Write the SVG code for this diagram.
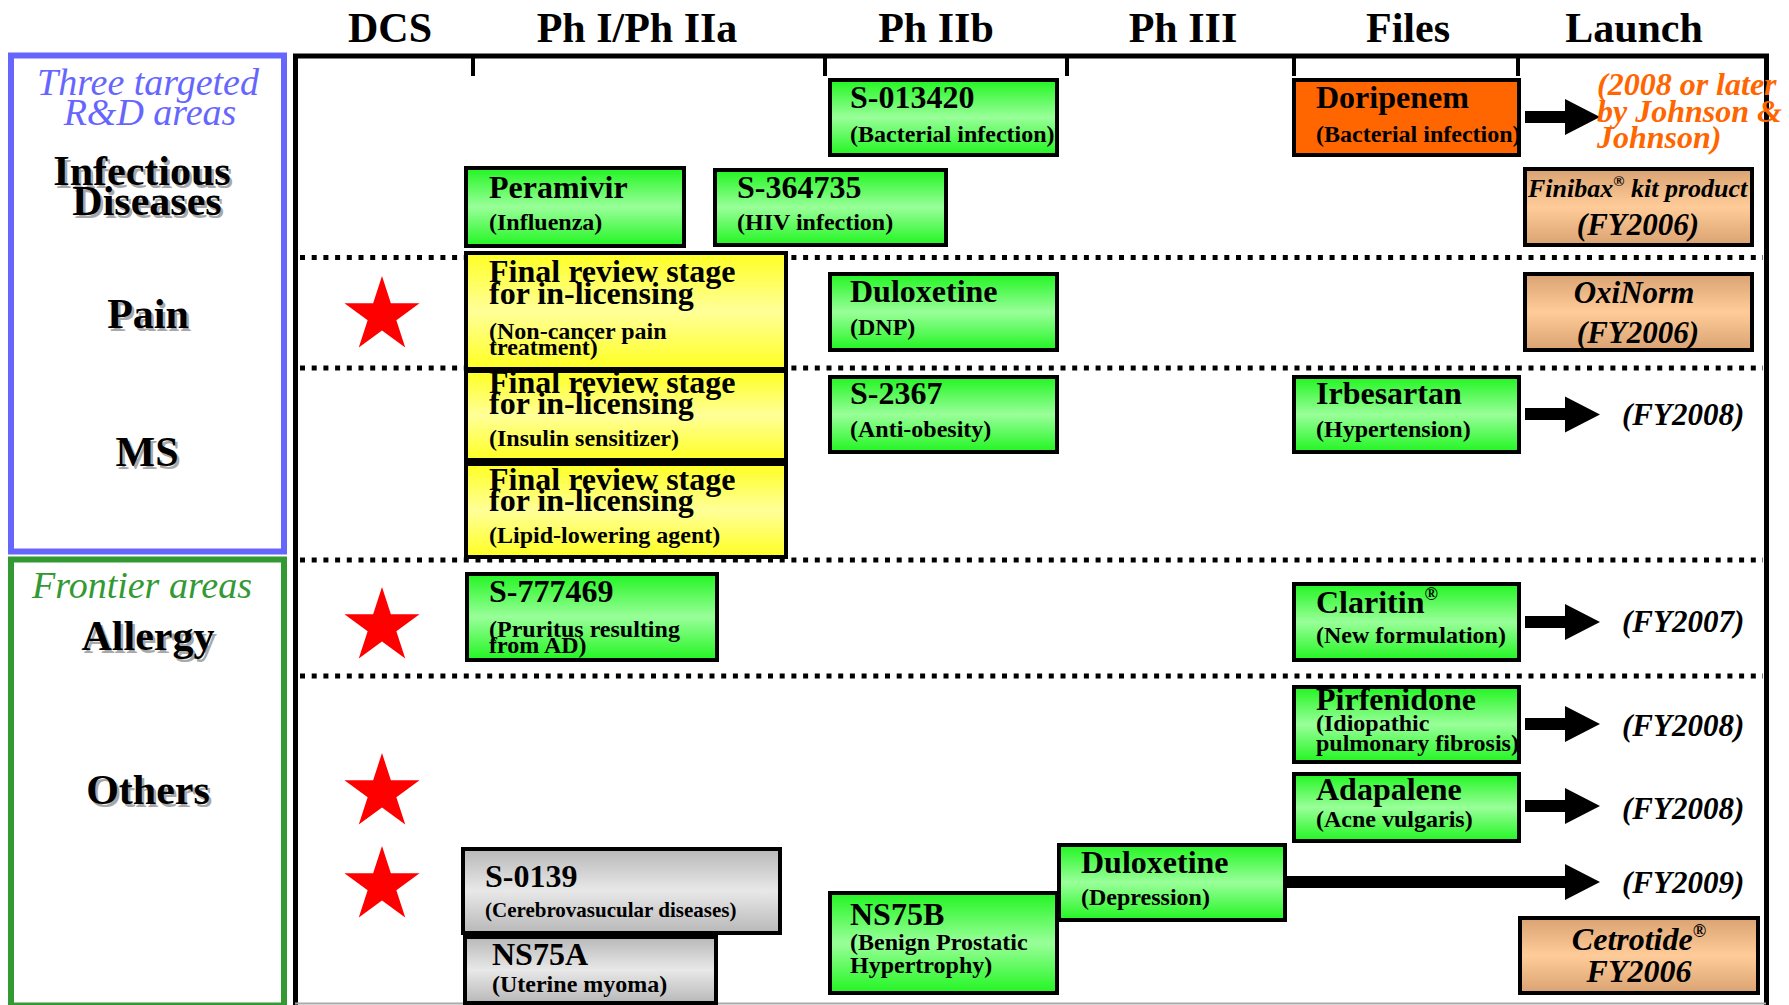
<svg xmlns="http://www.w3.org/2000/svg" xmlns:xlink="http://www.w3.org/1999/xlink" width="1789" height="1005" viewBox="0 0 1789 1005">
<defs>
<style>
text{font-family:"Liberation Serif","Times New Roman",serif;fill:#000}
.h{font-size:42px;font-weight:bold;text-anchor:middle}
.lb{font-size:42px;font-weight:bold;text-anchor:middle}
.sh{fill:#a8a8a8}
.ar{font-size:38px;font-style:italic;text-anchor:middle}
.t{font-size:32px;font-weight:bold}
.s{font-size:24px;font-weight:bold}
.l{font-size:31px;font-weight:bold;font-style:italic}
.c{text-anchor:middle}
.or{font-size:32px;font-weight:bold;font-style:italic;fill:#ff6600}
.box{stroke:#000;stroke-width:4}
.g{fill:url(#gG)}
.y{fill:url(#gY)}
.gr{fill:url(#gGr)}
.tan{fill:url(#gT)}
.dot{stroke:#000;stroke-width:5;stroke-dasharray:5 6.7;fill:none}
.frame{stroke:#000;stroke-width:5;fill:none}
.tick{stroke:#000;stroke-width:4}
.arrow{fill:#000}
.star{fill:#ff0000}
</style>
<linearGradient id="gG" x1="0" y1="0" x2="0" y2="1">
<stop offset="0" stop-color="#22f522"/><stop offset="0.5" stop-color="#99ff99"/><stop offset="1" stop-color="#22f522"/>
</linearGradient>
<linearGradient id="gY" x1="0" y1="0" x2="0" y2="1">
<stop offset="0" stop-color="#ffff22"/><stop offset="0.5" stop-color="#ffff99"/><stop offset="1" stop-color="#ffff22"/>
</linearGradient>
<linearGradient id="gGr" x1="0" y1="0" x2="0" y2="1">
<stop offset="0" stop-color="#b8b8b8"/><stop offset="0.5" stop-color="#e8e8e8"/><stop offset="1" stop-color="#b8b8b8"/>
</linearGradient>
<linearGradient id="gT" x1="0" y1="0" x2="0" y2="1">
<stop offset="0" stop-color="#d9a272"/><stop offset="0.5" stop-color="#ffcc99"/><stop offset="1" stop-color="#d9a272"/>
</linearGradient>
<polygon id="star" points="0,-39.5 8.88,-12.22 37.57,-12.21 14.36,4.67 23.22,31.96 0,15.1 -23.22,31.96 -14.36,4.67 -37.57,-12.21 -8.88,-12.22"/>
</defs>
<rect width="1789" height="1005" fill="#fff"/>

<g id="headers">
<text class="h" x="390" y="42">DCS</text>
<text class="h" x="637" y="42">Ph I/Ph IIa</text>
<text class="h" x="936" y="42">Ph IIb</text>
<text class="h" x="1183" y="42">Ph III</text>
<text class="h" x="1408" y="42">Files</text>
<text class="h" x="1634" y="42">Launch</text>
</g>

<g id="frame">
<line class="frame" x1="293" y1="56" x2="1769" y2="56"/>
<line class="frame" x1="295.5" y1="54" x2="295.5" y2="1005"/>
<line class="frame" x1="1766.5" y1="54" x2="1766.5" y2="1005"/>
<line x1="295" y1="1003.5" x2="1766" y2="1003.5" stroke="#aaaaaa" stroke-width="2"/>
<line class="tick" x1="473" y1="56" x2="473" y2="76"/>
<line class="tick" x1="825" y1="56" x2="825" y2="76"/>
<line class="tick" x1="1067" y1="56" x2="1067" y2="76"/>
<line class="tick" x1="1294" y1="56" x2="1294" y2="76"/>
<line class="tick" x1="1518" y1="56" x2="1518" y2="76"/>
<line class="dot" x1="300" y1="257.5" x2="1763" y2="257.5"/>
<line class="dot" x1="300" y1="368" x2="1763" y2="368"/>
<line class="dot" x1="300" y1="560" x2="1763" y2="560"/>
<line class="dot" x1="300" y1="676" x2="1763" y2="676"/>
</g>

<g id="area-targeted">
<rect x="11" y="55.5" width="273" height="496" fill="none" stroke="#6666ff" stroke-width="6"/>
<text class="ar" x="148" y="95" fill="#6666ff" style="fill:#6666ff">Three targeted</text>
<text class="ar" x="150" y="125" style="fill:#6666ff">R&amp;D areas</text>
</g>
<g id="area-frontier">
<rect x="11" y="559.5" width="273" height="446" fill="none" stroke="#339933" stroke-width="6"/>
<text class="ar" x="142" y="598" style="fill:#339933">Frontier areas</text>
</g>

<g id="labels">
<text class="lb sh" x="144.5" y="187.5">Infectious</text>
<text class="lb" x="142" y="185">Infectious</text>
<text class="lb sh" x="149.5" y="217.5">Diseases</text>
<text class="lb" x="147" y="215">Diseases</text>
<text class="lb sh" x="150.5" y="330.5">Pain</text>
<text class="lb" x="148" y="328">Pain</text>
<text class="lb sh" x="149.5" y="468.5">MS</text>
<text class="lb" x="147" y="466">MS</text>
<text class="lb sh" x="150.5" y="652.5">Allergy</text>
<text class="lb" x="148" y="650">Allergy</text>
<text class="lb sh" x="150.5" y="806.5">Others</text>
<text class="lb" x="148" y="804">Others</text>
</g>

<g id="stars">
<use xlink:href="#star" href="#star" class="star" x="382" y="315.5"/>
<use xlink:href="#star" href="#star" class="star" x="382" y="626.5"/>
<use xlink:href="#star" href="#star" class="star" x="382" y="792.5"/>
<use xlink:href="#star" href="#star" class="star" x="382" y="885.5"/>
</g>

<g id="connectors">
<polygon class="arrow" points="1525,111 1565,111 1565,99 1600,117 1565,135 1565,123 1525,123"/>
<polygon class="arrow" points="1525,408 1565,408 1565,396.5 1600,414.5 1565,432.5 1565,420 1525,420"/>
<polygon class="arrow" points="1525,616 1565,616 1565,604 1600,622 1565,640 1565,628 1525,628"/>
<polygon class="arrow" points="1525,718 1565,718 1565,706 1600,724 1565,742 1565,730 1525,730"/>
<polygon class="arrow" points="1525,800 1565,800 1565,788 1600,806 1565,824 1565,812 1525,812"/>
<polygon class="arrow" points="1287,876 1565,876 1565,864 1600,882 1565,900 1565,888 1287,888"/>
</g>

<g id="n-s013420">
<rect class="box g" x="830" y="80" width="227" height="75"/>
<text class="t" x="850" y="108">S-013420</text>
<text class="s" x="850" y="142">(Bacterial infection)</text>
</g>
<g id="n-doripenem">
<rect class="box" fill="#ff6600" x="1294" y="80" width="225" height="75"/>
<text class="t" x="1316" y="108">Doripenem</text>
<text class="s" x="1316" y="142">(Bacterial infection)</text>
</g>
<g id="n-jj">
<text class="or" x="1597" y="95">(2008 or later</text>
<text class="or" x="1597" y="122">by Johnson &amp;</text>
<text class="or" x="1597" y="148">Johnson)</text>
</g>
<g id="n-peramivir">
<rect class="box g" x="466" y="168" width="218" height="78"/>
<text class="t" x="489" y="198">Peramivir</text>
<text class="s" x="489" y="230">(Influenza)</text>
</g>
<g id="n-s364735">
<rect class="box g" x="715" y="170" width="231" height="75"/>
<text class="t" x="737" y="198">S-364735</text>
<text class="s" x="737" y="230">(HIV infection)</text>
</g>
<g id="n-finibax">
<rect class="box tan" x="1525" y="169" width="227" height="76"/>
<text class="l" x="1528" y="197" style="font-size:26px">Finibax<tspan font-size="15" dy="-11">®</tspan><tspan dy="11"> kit product</tspan></text>
<text class="l c" x="1638" y="235">(FY2006)</text>
</g>
<g id="n-pain-inlic">
<rect class="box y" x="466" y="253" width="320" height="116"/>
<text class="t" x="489" y="282">Final review stage</text>
<text class="t" x="489" y="304">for in-licensing</text>
<text class="s" x="489" y="339">(Non-cancer pain</text>
<text class="s" x="489" y="355">treatment)</text>
</g>
<g id="n-duloxetine-dnp">
<rect class="box g" x="830" y="274" width="227" height="76"/>
<text class="t" x="850" y="302">Duloxetine</text>
<text class="s" x="850" y="335">(DNP)</text>
</g>
<g id="n-oxinorm">
<rect class="box tan" x="1525" y="274" width="227" height="76"/>
<text class="l c" x="1634" y="303">OxiNorm</text>
<text class="l c" x="1638" y="343">(FY2006)</text>
</g>
<g id="n-ms-inlic1">
<rect class="box y" x="466" y="371" width="320" height="89"/>
<text class="t" x="489" y="393">Final review stage</text>
<text class="t" x="489" y="414">for in-licensing</text>
<text class="s" x="489" y="446">(Insulin sensitizer)</text>
</g>
<g id="n-s2367">
<rect class="box g" x="830" y="377" width="227" height="75"/>
<text class="t" x="850" y="404">S-2367</text>
<text class="s" x="850" y="437">(Anti-obesity)</text>
</g>
<g id="n-irbesartan">
<rect class="box g" x="1294" y="377" width="225" height="75"/>
<text class="t" x="1316" y="404">Irbesartan</text>
<text class="s" x="1316" y="437">(Hypertension)</text>
</g>
<text class="l" x="1622" y="425">(FY2008)</text>
<g id="n-ms-inlic2">
<rect class="box y" x="466" y="464" width="320" height="93"/>
<text class="t" x="489" y="490">Final review stage</text>
<text class="t" x="489" y="511">for in-licensing</text>
<text class="s" x="489" y="543">(Lipid-lowering agent)</text>
</g>
<g id="n-s777469">
<rect class="box g" x="467" y="574" width="250" height="86"/>
<text class="t" x="489" y="602">S-777469</text>
<text class="s" x="489" y="637">(Pruritus resulting</text>
<text class="s" x="489" y="653">from AD)</text>
</g>
<g id="n-claritin">
<rect class="box g" x="1294" y="584" width="225" height="76"/>
<text class="t" x="1316" y="613">Claritin<tspan font-size="18" dy="-13">®</tspan></text>
<text class="s" x="1316" y="643">(New formulation)</text>
</g>
<text class="l" x="1622" y="632">(FY2007)</text>
<g id="n-pirfenidone">
<rect class="box g" x="1294" y="687" width="225" height="75"/>
<text class="t" x="1316" y="710">Pirfenidone</text>
<text class="s" x="1316" y="731">(Idiopathic</text>
<text class="s" x="1316" y="751">pulmonary fibrosis)</text>
</g>
<text class="l" x="1622" y="736">(FY2008)</text>
<g id="n-adapalene">
<rect class="box g" x="1294" y="774" width="225" height="67"/>
<text class="t" x="1316" y="800">Adapalene</text>
<text class="s" x="1316" y="827">(Acne vulgaris)</text>
</g>
<text class="l" x="1622" y="819">(FY2008)</text>
<g id="n-s0139">
<rect class="box gr" x="463" y="849" width="317" height="84"/>
<text class="t" x="485" y="887">S-0139</text>
<text class="s" x="485" y="917" style="font-size:21px">(Cerebrovasucular diseases)</text>
</g>
<g id="n-duloxetine-dep">
<rect class="box g" x="1059" y="845" width="226" height="75"/>
<text class="t" x="1081" y="873">Duloxetine</text>
<text class="s" x="1081" y="905">(Depression)</text>
</g>
<text class="l" x="1622" y="893">(FY2009)</text>
<g id="n-ns75b">
<rect class="box g" x="830" y="893" width="227" height="100"/>
<text class="t" x="850" y="925">NS75B</text>
<text class="s" x="850" y="950">(Benign Prostatic</text>
<text class="s" x="850" y="973">Hypertrophy)</text>
</g>
<g id="n-ns75a">
<rect class="box gr" x="465" y="937" width="251" height="66"/>
<text class="t" x="492" y="965">NS75A</text>
<text class="s" x="492" y="992">(Uterine myoma)</text>
</g>
<g id="n-cetrotide">
<rect class="box tan" x="1520" y="918" width="238" height="75"/>
<text class="l c" x="1639" y="950" style="font-size:32px">Cetrotide<tspan font-size="18" dy="-13">®</tspan></text>
<text class="l c" x="1639" y="982" style="font-size:32px">FY2006</text>
</g>
</svg>
